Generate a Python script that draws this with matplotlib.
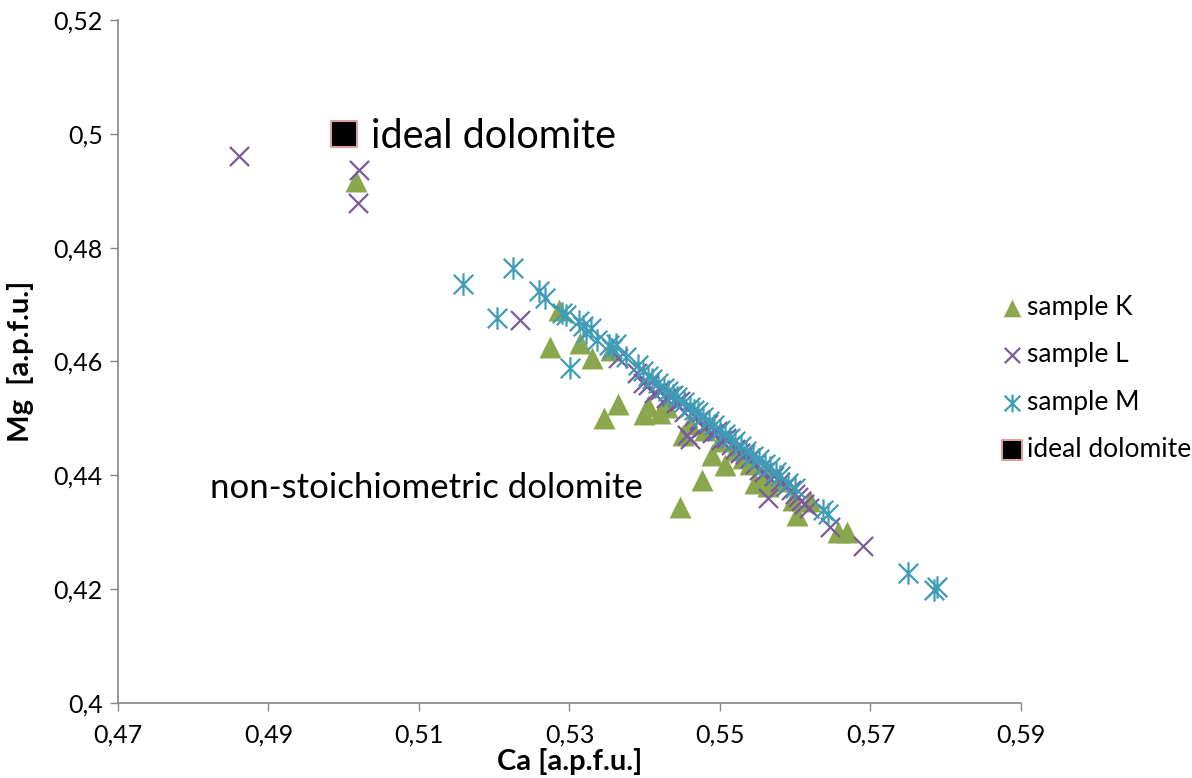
import matplotlib.pyplot as plt
import numpy as np
from matplotlib.path import Path

# Sample K (green triangles)
k_ca = [0.5016, 0.5286, 0.5274, 0.5314, 0.5330, 0.5346, 0.5355, 0.5364, 0.5399, 0.5404,
        0.5420, 0.5430, 0.5447, 0.5451, 0.5460, 0.5476, 0.5480, 0.5489, 0.5500, 0.5507,
        0.5520, 0.5530, 0.5540, 0.5547, 0.5560, 0.5564, 0.5580, 0.5597, 0.5602, 0.5620,
        0.5657, 0.5669]
k_mg = [0.4917, 0.4690, 0.4626, 0.4633, 0.4607, 0.4500, 0.4620, 0.4525, 0.4508, 0.4521,
        0.4510, 0.4520, 0.4344, 0.4471, 0.4490, 0.4392, 0.4480, 0.4436, 0.4460, 0.4418,
        0.4445, 0.4430, 0.4420, 0.4387, 0.4400, 0.4381, 0.4390, 0.4357, 0.4330, 0.4355,
        0.4300, 0.4300]

# Sample L (purple crosses)
l_ca = [0.4861, 0.5020, 0.5019, 0.5234, 0.5365, 0.5390, 0.5398, 0.5405, 0.5412, 0.5420,
        0.5428, 0.5435, 0.5441, 0.5447, 0.5452, 0.5456, 0.5460, 0.5466, 0.5472, 0.5478,
        0.5484, 0.5490, 0.5496, 0.5502, 0.5508, 0.5515, 0.5520, 0.5527, 0.5533, 0.5540,
        0.5547, 0.5552, 0.5558, 0.5564, 0.5572, 0.5580, 0.5588, 0.5595, 0.5600, 0.5604,
        0.5608, 0.5612, 0.5618, 0.5646, 0.5690]
l_mg = [0.4961, 0.4937, 0.4878, 0.4673, 0.4606, 0.4580, 0.4562, 0.4558, 0.4545, 0.4550,
        0.4536, 0.4540, 0.4527, 0.4530, 0.4512, 0.4470, 0.4463, 0.4505, 0.4498, 0.4485,
        0.4490, 0.4475, 0.4478, 0.4462, 0.4465, 0.4453, 0.4447, 0.4440, 0.4437, 0.4430,
        0.4420, 0.4410, 0.4405, 0.4360, 0.4398, 0.4388, 0.4382, 0.4375, 0.4368, 0.4362,
        0.4355, 0.4350, 0.4343, 0.4310, 0.4276]

# Sample M (teal asterisks)
m_ca = [0.5158, 0.5204, 0.5225, 0.5259, 0.5267, 0.5301, 0.5290, 0.5296, 0.5312, 0.5318,
        0.5322, 0.5328, 0.5336, 0.5352, 0.5356, 0.5362, 0.5375, 0.5391, 0.5398, 0.5404,
        0.5410, 0.5418, 0.5425, 0.5431, 0.5437, 0.5443, 0.5452, 0.5460, 0.5466, 0.5471,
        0.5478, 0.5485, 0.5492, 0.5500, 0.5507, 0.5513, 0.5520, 0.5528, 0.5535, 0.5544,
        0.5552, 0.5560, 0.5566, 0.5574, 0.5580, 0.5591, 0.5600, 0.5637, 0.5643, 0.5750,
        0.5784, 0.5788]
m_mg = [0.4737, 0.4677, 0.4764, 0.4723, 0.4712, 0.4588, 0.4685, 0.4681, 0.4672, 0.4663,
        0.4650, 0.4658, 0.4638, 0.4629, 0.4622, 0.4631, 0.4608, 0.4594, 0.4583, 0.4575,
        0.4569, 0.4562, 0.4554, 0.4549, 0.4541, 0.4538, 0.4528, 0.4520, 0.4515, 0.4511,
        0.4503, 0.4496, 0.4488, 0.4480, 0.4472, 0.4466, 0.4461, 0.4451, 0.4443, 0.4434,
        0.4428, 0.4420, 0.4414, 0.4406, 0.4398, 0.4387, 0.4378, 0.4339, 0.4332, 0.4228,
        0.4199, 0.4203]

# Ideal dolomite
ideal_ca = [0.50]
ideal_mg = [0.50]

FONT = ['Lato', 'DejaVu Sans']
plt.rcParams['font.family'] = FONT

green = '#8BA74E'
purple = '#7A5A9C'
teal = '#3F9CB6'
gray = '#868686'

# asterisk marker: x plus vertical bar
star = Path([(-1, -1), (1, 1), (-1, 1), (1, -1), (0, -1.15), (0, 1.15)],
            [Path.MOVETO, Path.LINETO, Path.MOVETO, Path.LINETO, Path.MOVETO, Path.LINETO])

fig = plt.figure(figsize=(11.92, 7.78), dpi=100)
ax = fig.add_axes([0.099, 0.0964, 0.7575, 0.8779])

ax.scatter(k_ca, k_mg, marker='^', s=250, color=green, linewidths=0, label='sample K', zorder=2)
ax.scatter(l_ca, l_mg, marker='x', s=190, color=purple, linewidths=1.6, label='sample L', zorder=3)
ax.scatter(m_ca, m_mg, marker=star, s=260, color=teal, linewidths=1.6, label='sample M', zorder=4)
ax.scatter(ideal_ca, ideal_mg, marker='s', s=330, color='black', edgecolors='#D9A0A0',
           linewidths=1.5, label='ideal dolomite', zorder=5)

ax.text(0.5036, 0.4995, 'ideal dolomite', fontsize=28.5, va='center', ha='left')
ax.text(0.4822, 0.4378, 'non-stoichiometric dolomite', fontsize=25, va='center', ha='left')

ax.set_xlim(0.47, 0.59)
ax.set_ylim(0.40, 0.52)
ax.set_xticks(np.arange(0.47, 0.5901, 0.02))
ax.set_yticks(np.arange(0.40, 0.5201, 0.02))
ax.set_xticklabels(['0,47', '0,49', '0,51', '0,53', '0,55', '0,57', '0,59'])
ax.set_yticklabels(['0,4', '0,42', '0,44', '0,46', '0,48', '0,5', '0,52'])
ax.tick_params(direction='out', length=6, width=1, color=gray, labelsize=18)
ax.tick_params(axis='x', pad=9)
ax.tick_params(axis='y', pad=5)

for side in ['top', 'right']:
    ax.spines[side].set_visible(False)
for side in ['left', 'bottom']:
    ax.spines[side].set_color(gray)
    ax.spines[side].set_linewidth(1.2)

ax.set_xlabel('Ca [a.p.f.u.]', fontsize=21, fontweight='bold', labelpad=1)
ax.set_ylabel('Mg  [a.p.f.u.]', fontsize=21, fontweight='bold', labelpad=14)

leg = ax.legend(loc='center left', bbox_to_anchor=(0.975, 0.475), frameon=False, fontsize=19,
                labelspacing=0.85, handletextpad=0.1, handlelength=1.0, markerscale=0.8,
                borderpad=0, borderaxespad=0)

plt.savefig('out.png', dpi=100)
